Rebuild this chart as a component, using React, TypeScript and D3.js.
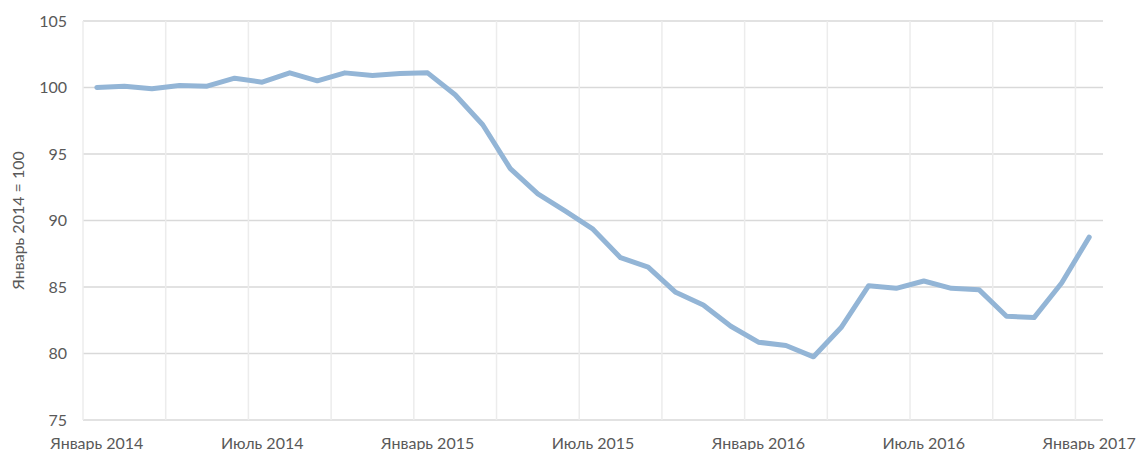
import React, { useEffect, useRef } from "react";
import * as d3 from "d3";

// monthly index, January 2014 = 100
const months = [
  "2014-01", "2014-02", "2014-03", "2014-04", "2014-05", "2014-06",
  "2014-07", "2014-08", "2014-09", "2014-10", "2014-11", "2014-12",
  "2015-01", "2015-02", "2015-03", "2015-04", "2015-05", "2015-06",
  "2015-07", "2015-08", "2015-09", "2015-10", "2015-11", "2015-12",
  "2016-01", "2016-02", "2016-03", "2016-04", "2016-05", "2016-06",
  "2016-07", "2016-08", "2016-09", "2016-10", "2016-11", "2016-12",
  "2017-01",
];

const values = [
  100.0, 100.1, 99.9, 100.15, 100.1, 100.7,
  100.4, 101.1, 100.5, 101.1, 100.9, 101.05,
  101.1, 99.45, 97.2, 93.9, 92.0, 90.7,
  89.35, 87.2, 86.5, 84.6, 83.65, 82.05,
  80.85, 80.6, 79.75, 81.95, 85.1, 84.9,
  85.45, 84.9, 84.8, 82.8, 82.7, 85.3,
  88.75,
];

const monthLabels: Record<string, string> = {
  "2014-01": "Январь 2014",
  "2014-07": "Июль 2014",
  "2015-01": "Январь 2015",
  "2015-07": "Июль 2015",
  "2016-01": "Январь 2016",
  "2016-07": "Июль 2016",
  "2017-01": "Январь 2017",
};

const yTicks = [75, 80, 85, 90, 95, 100, 105];
const yTitle = "Январь 2014 = 100";

export default function App() {
  const ref = useRef<SVGSVGElement>(null);

  useEffect(() => {
    const width = 1142;
    const height = 450;
    const left = 83, right = 1103, top = 21, bottom = 420;
    const font = "Lato, sans-serif";

    const svg = d3.select(ref.current);
    svg.selectAll("*").remove();

    const x = d3.scaleBand().domain(months).range([left, right]);
    const y = d3.scaleLinear().domain([75, 105]).range([bottom, top]);

    // horizontal gridlines
    svg
      .append("g")
      .selectAll("line")
      .data(yTicks)
      .enter()
      .append("line")
      .attr("x1", left)
      .attr("x2", right)
      .attr("y1", (d) => y(d))
      .attr("y2", (d) => y(d))
      .attr("stroke", "#d9d9d9")
      .attr("stroke-width", 1.5);

    // vertical gridlines every 3 months (between categories)
    svg
      .append("g")
      .selectAll("line")
      .data(months.filter((_, i) => i % 3 === 0))
      .enter()
      .append("line")
      .attr("x1", (d) => x(d)!)
      .attr("x2", (d) => x(d)!)
      .attr("y1", top)
      .attr("y2", bottom)
      .attr("stroke", "#ececec")
      .attr("stroke-width", 1.5);

    // y tick labels
    svg
      .append("g")
      .selectAll("text")
      .data(yTicks)
      .enter()
      .append("text")
      .attr("x", 67)
      .attr("y", (d) => y(d))
      .attr("dy", "0.35em")
      .attr("text-anchor", "end")
      .attr("font-family", font)
      .attr("font-size", 16)
      .attr("fill", "#595959")
      .text((d) => d);

    // y title
    svg
      .append("text")
      .attr("transform", `translate(18, ${(top + bottom) / 2}) rotate(-90)`)
      .attr("text-anchor", "middle")
      .attr("dy", "0.35em")
      .attr("font-family", font)
      .attr("font-size", 16)
      .attr("fill", "#595959")
      .text(yTitle);

    // x labels
    svg
      .append("g")
      .selectAll("text")
      .data(months.filter((m) => monthLabels[m]))
      .enter()
      .append("text")
      .attr("x", (d) => x(d)! + x.bandwidth() / 2)
      .attr("y", 449)
      .attr("text-anchor", "middle")
      .attr("font-family", font)
      .attr("font-size", 16)
      .attr("fill", "#595959")
      .text((d) => monthLabels[d]);

    // line
    const line = d3
      .line<number>()
      .x((_, i) => x(months[i])! + x.bandwidth() / 2)
      .y((d) => y(d));

    svg
      .append("path")
      .datum(values)
      .attr("d", line)
      .attr("fill", "none")
      .attr("stroke", "#93b5d6")
      .attr("stroke-width", 5)
      .attr("stroke-linejoin", "round")
      .attr("stroke-linecap", "round");

    svg.attr("width", width).attr("height", height);
  }, []);

  return (
    <svg
      ref={ref}
      style={{ position: "absolute", left: 0, top: 0, display: "block", background: "#fff" }}
    />
  );
}
